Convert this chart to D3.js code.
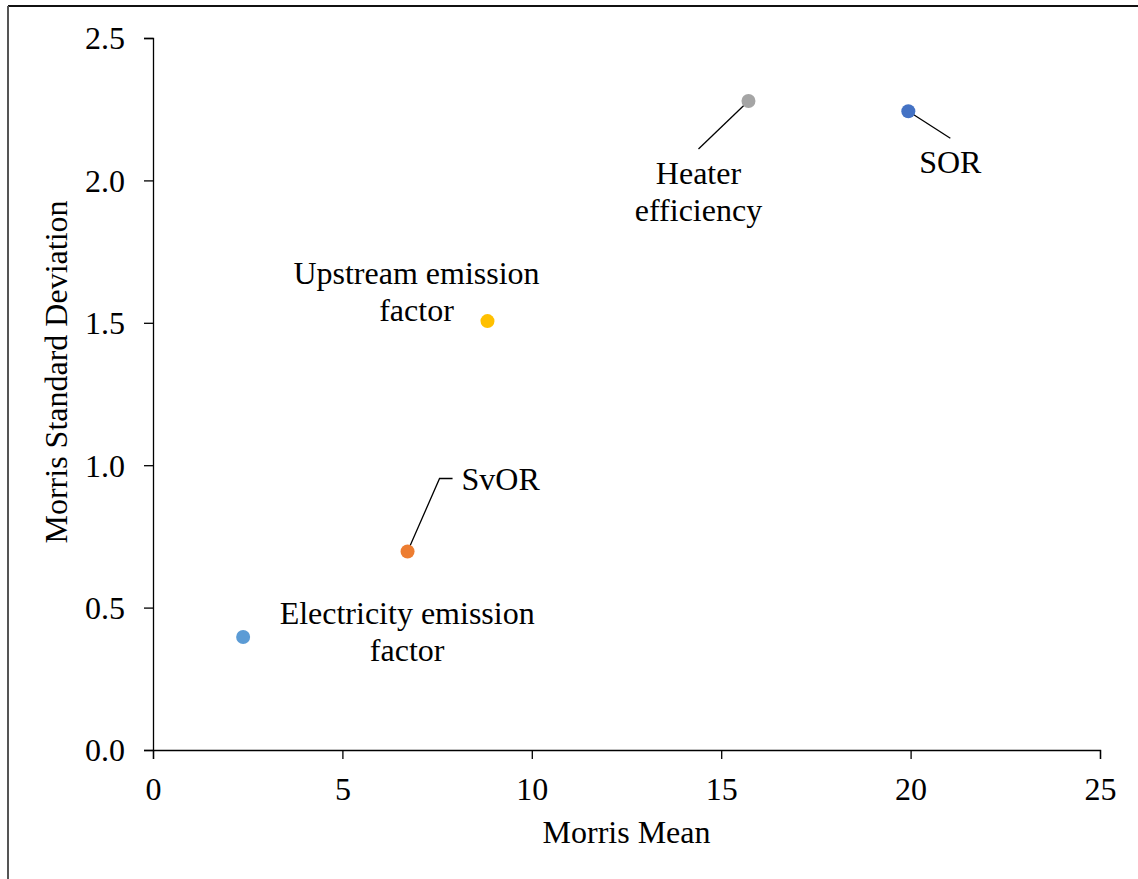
<!DOCTYPE html>
<html>
<head>
<meta charset="utf-8">
<script src="https://cdn.jsdelivr.net/npm/d3@7"></script>
<style>
  body { margin: 0; background: #fff; }
  text { font-family: "Liberation Serif", "Times New Roman", serif; fill: #000; }
</style>
</head>
<body>
<svg width="1138" height="879"></svg>
<script>
// data
var names = ["Electricity emission factor", "SvOR", "Upstream emission factor", "Heater efficiency", "SOR"];
var morrisMean = [2.38, 6.72, 8.83, 15.72, 19.94];
var morrisSD = [0.397, 0.697, 1.506, 2.279, 2.243];
var xTicks = [0, 5, 10, 15, 20, 25];
var yTicks = [0, 0.5, 1.0, 1.5, 2.0, 2.5];

// styling / label layout (pixel offsets from the point)
var colors = ["#5B9BD5", "#ED7D31", "#FFC000", "#A5A5A5", "#4472C4"];
var labelLayout = [
  { lines: ["Electricity emission", "factor"], dx: 164, dy: -13, anchor: "middle", leader: null },
  { lines: ["SvOR"], dx: 54, dy: -61, anchor: "start", leader: [[32, -73], [45, -73]] },
  { lines: ["Upstream emission", "factor"], dx: -71, dy: -37, anchor: "middle", leader: null },
  { lines: ["Heater", "efficiency"], dx: -50, dy: 83, anchor: "middle", leader: [[-50, 48]] },
  { lines: ["SOR"], dx: 42, dy: 62, anchor: "middle", leader: [[42, 27]] }
];

var svg = d3.select("svg");
var fontSize = 32;
var margin = { left: 153, right: 38, top: 38, bottom: 129 };
var width = 1138, height = 879;

var x = d3.scaleLinear().domain([0, 25]).range([margin.left, width - margin.right]);
var y = d3.scaleLinear().domain([0, 2.5]).range([height - margin.bottom, margin.top]);

// frame of the original figure
svg.append("line").attr("x1", 8).attr("x2", width).attr("y1", 6).attr("y2", 6)
  .attr("stroke", "#111").attr("stroke-width", 2);
svg.append("line").attr("x1", 8).attr("x2", 8).attr("y1", 6).attr("y2", height)
  .attr("stroke", "#555").attr("stroke-width", 2);

var xAxis = svg.append("g")
  .attr("transform", "translate(0," + y(0) + ")")
  .call(d3.axisBottom(x).tickValues(xTicks).tickFormat(d3.format("d")).tickSizeOuter(0).tickSize(9).tickPadding(18));

var yAxis = svg.append("g")
  .attr("transform", "translate(" + x(0) + ",0)")
  .call(d3.axisLeft(y).tickValues(yTicks).tickFormat(d3.format(".1f")).tickSizeOuter(0).tickSize(9).tickPadding(19));

[xAxis, yAxis].forEach(function (g) {
  g.select(".domain").attr("stroke", "#000").attr("stroke-width", 1.3);
  g.selectAll(".tick line").attr("stroke", "#000").attr("stroke-width", 1.3);
  g.selectAll(".tick text")
    .attr("font-family", "Liberation Serif, Times New Roman, serif")
    .attr("font-size", fontSize).attr("fill", "#000");
});
yAxis.selectAll(".tick text").attr("dy", "0.34em");

svg.append("text")
  .attr("x", (x(0) + x(25)) / 2)
  .attr("y", 843)
  .attr("text-anchor", "middle")
  .attr("font-size", fontSize)
  .text("Morris Mean");

svg.append("text")
  .attr("transform", "translate(67,372) rotate(-90)")
  .attr("text-anchor", "middle")
  .attr("font-size", fontSize)
  .text("Morris Standard Deviation");

var points = names.map(function (n, i) {
  return { name: n, mean: morrisMean[i], sd: morrisSD[i], color: colors[i], label: labelLayout[i] };
});

// leader lines
points.forEach(function (d) {
  if (!d.label.leader) return;
  var px = x(d.mean), py = y(d.sd);
  var pts = [[px, py]].concat(d.label.leader.map(function (p) { return [px + p[0], py + p[1]]; }));
  svg.append("path")
    .attr("d", d3.line()(pts))
    .attr("fill", "none")
    .attr("stroke", "#000")
    .attr("stroke-width", 1.3);
});

svg.append("g").selectAll("circle")
  .data(points)
  .enter()
  .append("circle")
  .attr("cx", function (d) { return x(d.mean); })
  .attr("cy", function (d) { return y(d.sd); })
  .attr("r", 7)
  .attr("fill", function (d) { return d.color; });

var labels = svg.append("g").selectAll("text")
  .data(points)
  .enter()
  .append("text")
  .attr("font-size", fontSize)
  .attr("text-anchor", function (d) { return d.label.anchor; })
  .attr("x", function (d) { return x(d.mean) + d.label.dx; })
  .attr("y", function (d) { return y(d.sd) + d.label.dy; });

labels.each(function (d) {
  var t = d3.select(this);
  d.label.lines.forEach(function (line, i) {
    t.append("tspan")
      .attr("x", x(d.mean) + d.label.dx)
      .attr("dy", i === 0 ? 0 : 37)
      .text(line);
  });
});
</script>
</body>
</html>
